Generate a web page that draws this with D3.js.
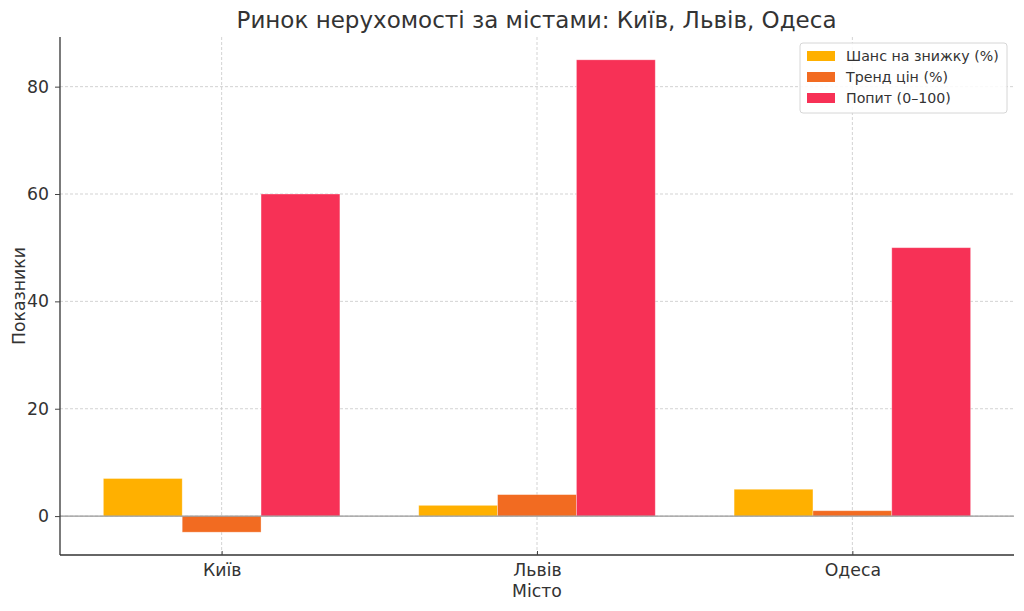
<!DOCTYPE html>
<html>
<head>
<meta charset="utf-8">
<script src="https://d3js.org/d3.v7.min.js"></script>
<style>
    body { margin: 0; background: #fff; }
    text { font-family: "DejaVu Sans", sans-serif; fill: #333; }
</style>
</head>
<body>
<script>
    // data
    var cities = ["Київ", "Львів", "Одеса"];
    var seriesNames = ["Шанс на знижку (%)", "Тренд цін (%)", "Попит (0–100)"];
    var discount = [7, 2, 5];
    var trend = [-3, 4, 1];
    var demand = [60, 85, 50];
    var yTicks = [0, 20, 40, 60, 80];
    var colors = ["#FFB000", "#F26B21", "#F73156"];

    var series = [discount, trend, demand];

    var w = 1024, h = 611;
    var mLeft = 60, mRight = 1014, mTop = 37, mBottom = 555;

    var svg = d3.select("body").append("svg")
        .attr("width", w)
        .attr("height", h);

    // x: index scale with matplotlib-like margins
    var x = d3.scaleLinear().domain([-0.5125, 2.5125]).range([mLeft, mRight]);
    var y = d3.scaleLinear().domain([-7.25, 89.25]).range([mBottom, mTop]);
    var bw = 0.25;

    // grid
    svg.append("g").selectAll("line")
        .data(yTicks).enter().append("line")
        .attr("x1", mLeft).attr("x2", mRight)
        .attr("y1", function(d) { return y(d); })
        .attr("y2", function(d) { return y(d); })
        .attr("stroke", "#c8c8c8").attr("stroke-width", 0.8)
        .attr("stroke-dasharray", "3,2");
    svg.append("g").selectAll("line")
        .data(cities).enter().append("line")
        .attr("x1", function(d, i) { return x(i); })
        .attr("x2", function(d, i) { return x(i); })
        .attr("y1", mTop).attr("y2", mBottom)
        .attr("stroke", "#c8c8c8").attr("stroke-width", 0.8)
        .attr("stroke-dasharray", "3,2");

    // bars
    series.forEach(function(vals, s) {
        svg.append("g").selectAll("rect")
            .data(vals).enter().append("rect")
            .attr("x", function(d, i) { return x(i + (s - 1) * bw - bw / 2); })
            .attr("width", x(bw) - x(0))
            .attr("y", function(d) { return y(Math.max(d, 0)); })
            .attr("height", function(d) { return Math.abs(y(d) - y(0)); })
            .attr("fill", colors[s])
            .attr("stroke", "#fff").attr("stroke-opacity", 0.4).attr("stroke-width", 0.8);
    });

    // zero line
    svg.append("line")
        .attr("x1", mLeft).attr("x2", mRight)
        .attr("y1", y(0)).attr("y2", y(0))
        .attr("stroke", "#999").attr("stroke-width", 1.2);

    // axes
    var yAxis = svg.append("g")
        .attr("transform", "translate(" + mLeft + ",0)")
        .call(d3.axisLeft(y).tickValues(yTicks).tickSize(5).tickPadding(6));
    var xAxis = svg.append("g")
        .attr("transform", "translate(0," + mBottom + ")")
        .call(d3.axisBottom(x).tickValues([0, 1, 2])
            .tickFormat(function(d) { return cities[d]; })
            .tickSizeInner(-4).tickSizeOuter(0).tickPadding(9));
    [yAxis, xAxis].forEach(function(a) {
        a.selectAll("text").style("font-size", "17.3px").attr("fill", "#333");
        a.selectAll(".tick line").attr("stroke", "#444");
        a.select(".domain").attr("stroke", "#333").attr("stroke-width", 1.3);
    });
    yAxis.select(".domain").attr("d", "M0," + mTop + "V" + mBottom);
    xAxis.select(".domain").attr("d", "M" + mLeft + ",0H" + mRight);

    // titles
    svg.append("text")
        .attr("x", (mLeft + mRight) / 2 - 0.5).attr("y", 28)
        .attr("text-anchor", "middle")
        .style("font-size", "23px")
        .text("Ринок нерухомості за містами: Київ, Львів, Одеса");
    svg.append("text")
        .attr("x", (mLeft + mRight) / 2).attr("y", 597)
        .attr("text-anchor", "middle")
        .style("font-size", "17.3px")
        .text("Місто");
    svg.append("text")
        .attr("transform", "translate(25," + ((mTop + mBottom) / 2) + ") rotate(-90)")
        .attr("text-anchor", "middle")
        .style("font-size", "17.3px")
        .text("Показники");

    // legend
    var lg = svg.append("g").attr("transform", "translate(800,43)");
    lg.append("rect")
        .attr("width", 207).attr("height", 70)
        .attr("rx", 3)
        .attr("fill", "#fff").attr("fill-opacity", 0.85)
        .attr("stroke", "#d6d6d6");
    seriesNames.forEach(function(n, i) {
        lg.append("rect")
            .attr("x", 7).attr("y", 8 + i * 21)
            .attr("width", 28).attr("height", 10)
            .attr("fill", colors[i]);
        lg.append("text")
            .attr("x", 46).attr("y", 18 + i * 21)
            .style("font-size", "14.2px")
            .text(n);
    });
</script>
</body>
</html>
